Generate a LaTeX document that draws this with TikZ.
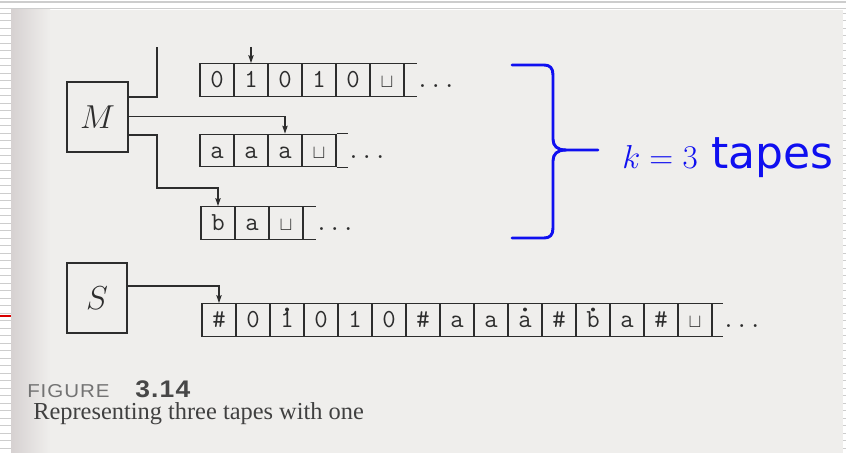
\documentclass[tikz,border=0pt]{standalone}
\usepackage{fontspec}
\usetikzlibrary{arrows.meta,calc}
\newfontfamily\dejavu{DejaVu Sans}
\newfontfamily\capfont{Liberation Serif}
\newfontfamily\figfont[FakeStretch=1.1,LetterSpace=5]{Liberation Sans}
\definecolor{paper}{RGB}{239,238,236}
\definecolor{paperdark}{RGB}{214,209,209}
\definecolor{ink}{RGB}{45,45,45}
\definecolor{slideblue}{RGB}{15,15,240}
\definecolor{stripline}{RGB}{205,205,205}
\newcommand\blnk{{\fontsize{13.5}{13.5}\selectfont$\sqcup$}}
\tikzset{
  cell/.style={draw=ink, line width=0.85pt, minimum width=25.5pt, minimum height=24.4pt,
    inner sep=0pt, font=\fontsize{19.5}{19.5}\selectfont\ttfamily, text=ink,
    text height=11.6pt, text depth=0pt},
  tapedots/.style={inner sep=0pt, anchor=west, font=\fontsize{19.5}{19.5}\selectfont\ttfamily,
    text=ink, text height=11.6pt, text depth=0pt},
  box/.style={draw=ink, line width=0.85pt, inner sep=0pt, text=ink,
    font=\fontsize{25}{25}\selectfont},
  conn/.style={draw=ink, line width=0.8pt},
  arr/.style={draw=ink, line width=0.8pt, -{Stealth[length=6pt,width=4pt,inset=1pt]}},
  headdot/.style={fill=ink},
  bracestyle/.style={draw=slideblue, line width=2.2pt, line cap=round, line join=round},
  plain/.style={inner sep=0pt, anchor=base west}
}
\begin{document}
\begin{tikzpicture}[x=0.75pt,y=-0.75pt]
\useasboundingbox (0,0) rectangle (846,453);
% page background and slide strips
\fill[white] (0,0) rectangle (846,453);
\fill[paper] (11,10) rectangle (843,453);
\shade[left color=paperdark, right color=paper] (11,10) rectangle (50,453);
\foreach \yy in {13,20.5,...,453} {
  \draw[stripline, line width=0.6pt] (0,\yy) -- (11,\yy);
  \draw[stripline, line width=0.6pt] (843,\yy) -- (846,\yy);
}
\draw[stripline, line width=0.8pt] (0,2) -- (846,2);
\draw[stripline, line width=0.8pt] (0,8.5) -- (846,8.5);
\draw[red!85!black, line width=0.8pt] (0,316) -- (11,316);

% machines
\node[box, minimum width=45.75pt, minimum height=52.5pt] (M) at (97.5,117) {$M$};
\node[box, minimum width=45pt, minimum height=52.5pt] (S) at (97,298) {$S$};

% tape 1
\foreach \s [count=\i] in {0,1,0,1,0,\blnk}
  \node[cell] (t1c\i) at (183+34*\i,80) {\s};
\draw[conn] (t1c6.north east) -- ++(12,0);
\draw[conn] (t1c6.south east) -- ++(12,0);
\node[tapedots] (t1d) at ($(t1c6.east)+(11,0)$) {...};

% tape 2
\foreach \s [count=\i] in {a,a,a,\blnk}
  \node[cell] (t2c\i) at (183+34*\i,150.5) {\s};
\draw[conn] (t2c4.north east) -- ++(11,0);
\draw[conn] (t2c4.south east) -- ++(11,0);
\node[tapedots] (t2d) at ($(t2c4.east)+(10,0)$) {...};

% tape 3
\foreach \s [count=\i] in {b,a,\blnk}
  \node[cell] (t3c\i) at (184+34*\i,223) {\s};
\draw[conn] (t3c3.north east) -- ++(12,0);
\draw[conn] (t3c3.south east) -- ++(12,0);
\node[tapedots] (t3d) at ($(t3c3.east)+(11,0)$) {...};

% tape 4
\foreach \s [count=\i] in {\#,0,1,0,1,0,\#,a,a,a,\#,b,a,\#,\blnk}
  \node[cell] (t4c\i) at (185+34*\i,320) {\s};
\draw[conn] (t4c15.north east) -- ++(10,0);
\draw[conn] (t4c15.south east) -- ++(10,0);
\node[tapedots] (t4d) at ($(t4c15.east)+(9,0)$) {...};
\foreach \k in {3,10,12}
  \fill[headdot] ($(t4c\k.center)+(0,-10.5)$) circle[radius=1.5pt];

% heads
\coordinate (mtop) at (157,47);
\coordinate (hd1) at (251,47);
\coordinate (m3) at (157,188);
\draw[conn] ([yshift=15pt]M.east) -| (mtop);
\draw[arr] (hd1) -- (t1c2.north);
\draw[arr] ([yshift=0.5pt]M.east) -| (t2c3.north);
\draw[arr] ([yshift=-13.5pt]M.east) -| (m3) -| (t3c1.north);
\draw[arr] ([yshift=9pt]S.east) -| (t4c1.north);

% brace and label
\draw[bracestyle] (512,65) -- (544,65) .. controls (550,65) and (553,68) .. (553,75)
  -- (553,139) .. controls (553,146) and (557,150) .. (566,150) -- (598,150);
\draw[bracestyle] (512,238) -- (544,238) .. controls (550,238) and (553,235) .. (553,228)
  -- (553,161) .. controls (553,154) and (557,150) .. (566,150);
\node[plain, text=slideblue] (lbl) at (622,168)
  {\fontsize{33}{38}\selectfont$k=3$ \dejavu tapes};

% caption
\node[plain, text=black!55] (fig) at (27,397) {\figfont\fontsize{14}{14}\selectfont FIGURE};
\node[plain, text=black!72] (num) at (135,397) {\figfont\bfseries\fontsize{18}{18}\selectfont 3.14};
\node[plain, text=black!75] (cap) at (33,419) {\capfont\fontsize{18.3}{18}\selectfont Representing three tapes with one};
\end{tikzpicture}
\end{document}
